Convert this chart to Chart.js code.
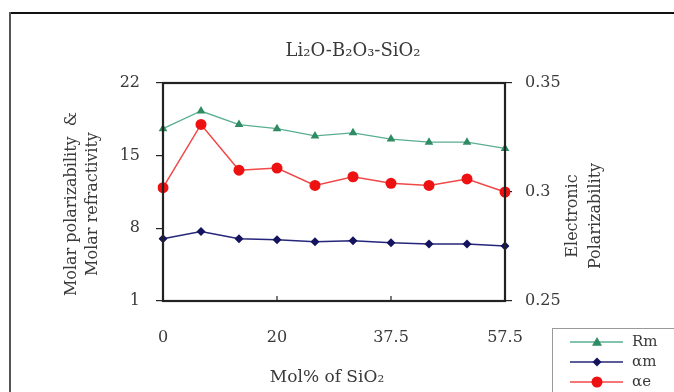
<!DOCTYPE html>
<html>
<head>
<meta charset="utf-8">
<script src="https://cdn.jsdelivr.net/npm/chart.js@4.4.1/dist/chart.umd.min.js"></script>
<style>
  html, body { margin: 0; padding: 0; background: #fff; }
  #wrap { width: 674px; height: 392px; position: relative; }
</style>
</head>
<body>
<div id="wrap"><canvas id="c" width="674" height="392"></canvas></div>
<script>
// ---- data ----
const categories = ["0", "7.5", "12.5", "20", "25", "30", "37.5", "45", "50", "57.5"];
const shownXLabels = ["0", "20", "37.5", "57.5"];
const rmValues = [17.6, 19.3, 18.0, 17.6, 16.9, 17.2, 16.6, 16.3, 16.3, 15.7];
const amValues = [7.0, 7.7, 7.0, 6.9, 6.7, 6.8, 6.6, 6.5, 6.5, 6.3];
const aeValues = [0.302, 0.331, 0.310, 0.311, 0.303, 0.307, 0.304, 0.303, 0.306, 0.300];
const leftTicks = [1, 8, 15, 22];
const rightTicks = [0.25, 0.3, 0.35];
const chartTitle = "Li\u2082O-B\u2082O\u2083-SiO\u2082";
const xTitle = "Mol% of SiO\u2082";
const leftTitle = ["Molar polarizability  &", "Molar refractivity"];
const rightTitle = ["Electronic", "Polarizability"];
const legendLabels = ["Rm", "\u03B1m", "\u03B1e"];

const FONT = "'DejaVu Serif', serif";
const TXT = '#3a3a3a';

const decor = {
  id: 'decor',
  beforeDraw(chart) {
    const ctx = chart.ctx;
    ctx.save();
    ctx.fillStyle = '#fff';
    ctx.fillRect(0, 0, chart.width, chart.height);
    ctx.restore();
  },
  afterDraw(chart) {
    const ctx = chart.ctx;
    const a = chart.chartArea;
    const xs = chart.scales.x;
    ctx.save();
    // plot frame
    ctx.strokeStyle = '#222';
    ctx.lineWidth = 2.2;
    ctx.strokeRect(a.left, a.top, a.right - a.left, a.bottom - a.top);
    // inner x tick marks
    ctx.lineWidth = 1.2;
    for (let i = 0; i < categories.length; i++) {
      if (!shownXLabels.includes(categories[i])) continue;
      const px = xs.getPixelForValue(i);
      ctx.beginPath();
      ctx.moveTo(px, a.bottom);
      ctx.lineTo(px, a.bottom - 5);
      ctx.stroke();
    }
    // outer border
    ctx.strokeStyle = '#555';
    ctx.lineWidth = 2;
    ctx.beginPath();
    ctx.moveTo(10, 400);
    ctx.lineTo(10, 13);
    ctx.lineTo(680, 13);
    ctx.stroke();
    ctx.strokeStyle = '#111';
    ctx.beginPath();
    ctx.moveTo(11, 13);
    ctx.lineTo(680, 13);
    ctx.stroke();

    ctx.fillStyle = TXT;
    ctx.textAlign = 'center';
    ctx.textBaseline = 'middle';
    // chart title
    ctx.font = "18px " + FONT;
    ctx.fillText(chartTitle, 353, 51);
    // x title
    ctx.font = "17px " + FONT;
    ctx.fillText(xTitle, 327, 378);
    // left title
    ctx.save();
    ctx.translate(72, 204);
    ctx.rotate(-Math.PI / 2);
    ctx.font = "16px " + FONT;
    ctx.fillText(leftTitle[0], 0, 0);
    ctx.fillText(leftTitle[1], 0, 21);
    ctx.restore();
    // right title
    ctx.save();
    ctx.translate(573, 216);
    ctx.rotate(-Math.PI / 2);
    ctx.font = "16px " + FONT;
    ctx.fillText(rightTitle[0], 0, 0);
    ctx.fillText(rightTitle[1], 0, 23);
    ctx.restore();

    // legend
    const lx = 552, ly = 328;
    ctx.strokeStyle = '#999';
    ctx.lineWidth = 1;
    ctx.strokeRect(lx + 0.5, ly + 0.5, 140, 80);
    const rows = [342, 362, 382];
    chart.data.datasets.forEach((ds, i) => {
      const y = rows[i];
      ctx.strokeStyle = ds.borderColor;
      ctx.lineWidth = ds.borderWidth;
      ctx.beginPath();
      ctx.moveTo(570, y);
      ctx.lineTo(623, y);
      ctx.stroke();
      ctx.fillStyle = ds.pointBackgroundColor;
      const r = ds.pointRadius;
      ctx.beginPath();
      if (ds.pointStyle === 'triangle') {
        ctx.moveTo(597, y - r);
        ctx.lineTo(597 + r, y + r * 0.75);
        ctx.lineTo(597 - r, y + r * 0.75);
        ctx.closePath();
      } else if (ds.pointStyle === 'rectRot') {
        ctx.moveTo(597, y - r);
        ctx.lineTo(597 + r, y);
        ctx.lineTo(597, y + r);
        ctx.lineTo(597 - r, y);
        ctx.closePath();
      } else {
        ctx.arc(597, y, r, 0, Math.PI * 2);
      }
      ctx.fill();
      ctx.fillStyle = TXT;
      ctx.font = "15px " + FONT;
      ctx.textAlign = 'left';
      ctx.fillText(legendLabels[i], 632, y);
    });
    ctx.restore();
  }
};

new Chart(document.getElementById('c'), {
  type: 'line',
  data: {
    labels: categories,
    datasets: [
      {
        label: legendLabels[0], data: rmValues, yAxisID: 'y',
        borderColor: '#5aae90', borderWidth: 1.3,
        pointStyle: 'triangle', pointRadius: 5,
        pointBackgroundColor: '#2e8b62', pointBorderColor: '#2e8b62', pointBorderWidth: 0
      },
      {
        label: legendLabels[1], data: amValues, yAxisID: 'y',
        borderColor: '#26267a', borderWidth: 1.5,
        pointStyle: 'rectRot', pointRadius: 4.5,
        pointBackgroundColor: '#14145e', pointBorderColor: '#14145e', pointBorderWidth: 0
      },
      {
        label: legendLabels[2], data: aeValues, yAxisID: 'y1',
        borderColor: '#f04848', borderWidth: 1.5,
        pointStyle: 'circle', pointRadius: 5.5,
        pointBackgroundColor: '#ee1111', pointBorderColor: '#ee1111', pointBorderWidth: 0
      }
    ]
  },
  options: {
    responsive: false,
    animation: false,
    layout: { padding: { top: 83, left: 0, right: 0, bottom: 0 } },
    plugins: { legend: { display: false }, title: { display: false }, tooltip: { enabled: false } },
    elements: { line: { tension: 0 } },
    scales: {
      x: {
        type: 'category',
        offset: false,
        grid: { display: false, drawTicks: false },
        border: { display: false },
        afterFit(s) { s.height = 91; },
        ticks: {
          autoSkip: false, maxRotation: 0, padding: 27,
          color: TXT, font: { family: FONT, size: 16 },
          callback(v, i) { const l = categories[i]; return shownXLabels.includes(l) ? l : ''; }
        }
      },
      y: {
        position: 'left', min: 1, max: 22,
        afterFit(s) { s.width = 163; },
        afterBuildTicks(s) { s.ticks = leftTicks.map(v => ({ value: v })); },
        grid: { drawOnChartArea: false, tickLength: 7, color: '#222', lineWidth: 1.2 },
        border: { display: false },
        ticks: { padding: 16, color: TXT, font: { family: FONT, size: 16 } }
      },
      y1: {
        position: 'right', min: 0.25, max: 0.35,
        afterFit(s) { s.width = 169; },
        afterBuildTicks(s) { s.ticks = rightTicks.map(v => ({ value: v })); },
        grid: { drawOnChartArea: false, tickLength: 7, color: '#222', lineWidth: 1.2 },
        border: { display: false },
        ticks: {
          padding: 13, color: TXT, font: { family: FONT, size: 16 },
          callback(v) { return String(+(+v).toFixed(2)); }
        }
      }
    }
  },
  plugins: [decor]
});
</script>
</body>
</html>
